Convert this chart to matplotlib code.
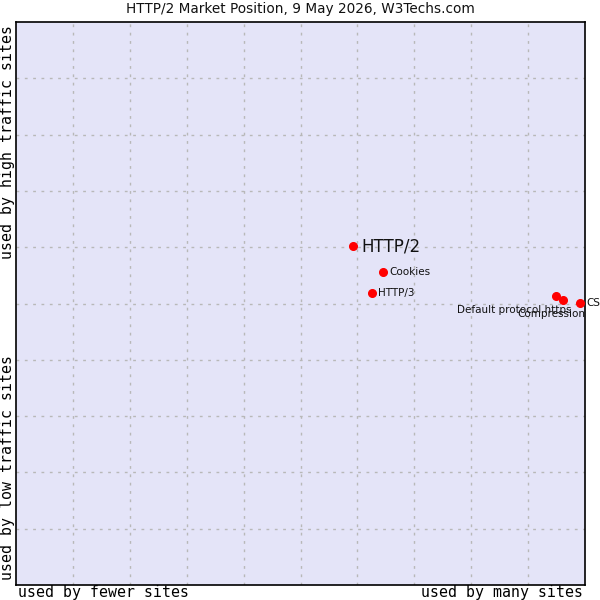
import matplotlib
matplotlib.use("Agg")
import matplotlib.pyplot as plt

# market position: x = usage (fewer -> many sites), y = traffic (low -> high)
names = ["HTTP/2", "Cookies", "HTTP/3", "Default protocol https", "Compression", "CSS"]
usage = [5.92, 6.45, 6.26, 9.49, 9.61, 9.91]
traffic = [6.02, 5.56, 5.19, 5.13, 5.06, 5.01]

fig = plt.figure(figsize=(6, 6), dpi=100)
ax = fig.add_axes([16/600, 15/600, 569/600, 563/600])
ax.set_facecolor("#e4e4f8")
ax.set_xlim(0, 10)
ax.set_ylim(0, 10)
ax.set_xticks(range(1, 10))
ax.set_yticks(range(1, 10))
ax.tick_params(length=0, labelbottom=False, labelleft=False)
ax.grid(True, color="#b8b8b8", linestyle=(0, (2, 4)), linewidth=1)
for s in ax.spines.values():
    s.set_linewidth(1.2)

ax.plot(usage, traffic, "o", color="red", markersize=5.5, zorder=5, clip_on=False)

# labels
ax.annotate(names[0], (usage[0], traffic[0]), xytext=(6, 0), textcoords="offset points",
            fontsize=12, va="center", color="#111111")
for i in [1, 2]:
    ax.annotate(names[i], (usage[i], traffic[i]), xytext=(4.5, 0), textcoords="offset points",
                fontsize=7.5, va="center", color="#111111")
ax.annotate(names[3], (usage[3], traffic[3]), xytext=(11.5, -10), textcoords="offset points",
            fontsize=7.5, ha="right", va="center", color="#111111", annotation_clip=False)
ax.annotate(names[4], (usage[4], traffic[4]), xytext=(16, -10), textcoords="offset points",
            fontsize=7.5, ha="right", va="center", color="#111111", annotation_clip=False)
ax.annotate(names[5], (usage[5], traffic[5]), xytext=(4.5, 0), textcoords="offset points",
            fontsize=7.5, va="center", color="#111111", annotation_clip=False)

fig.text(0.5, 1 - 9/600, "HTTP/2 Market Position, 9 May 2026, W3Techs.com",
         ha="center", va="center", fontsize=9.8, color="#111111")

mono = "DejaVu Sans Mono"
fig.text(18/600, 1 - 592/600, "used by fewer sites", family=mono, fontsize=10.7,
         ha="left", va="center")
fig.text(583/600, 1 - 592/600, "used by many sites", family=mono, fontsize=10.7,
         ha="right", va="center")
fig.text(8/600, 1 - 25/600, "used by high traffic sites", family=mono, fontsize=10.7,
         rotation=90, ha="center", va="top")
fig.text(8/600, 1 - 580/600, "used by low traffic sites", family=mono, fontsize=10.7,
         rotation=90, ha="center", va="bottom")

fig.savefig("out.png", dpi=100)
